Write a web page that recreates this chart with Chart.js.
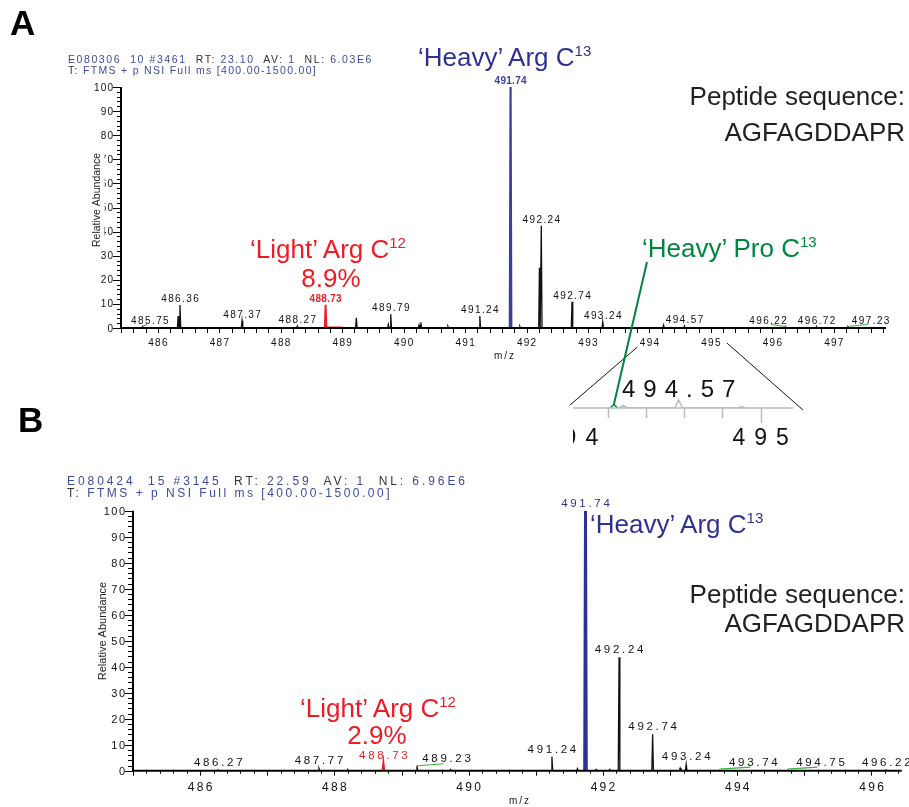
<!DOCTYPE html>
<html>
<head>
<meta charset="utf-8">
<title>SILAC spectra</title>
<script src="https://cdn.jsdelivr.net/npm/chart.js@4.4.1/dist/chart.umd.min.js"></script>
<style>
  body { margin: 0; background: #fff; }
  #page { position: relative; width: 909px; height: 807px; overflow: hidden; font-family: "Liberation Sans", Arial, sans-serif; }
  canvas { position: absolute; }
  .t { position: absolute; white-space: pre; line-height: 1; z-index: 5; }
  .panel { font-weight: bold; font-size: 35px; color: #000; }
  .hdrA { font-size: 10.5px; color: #3d4a9e; }
  .hdrB { font-size: 12px; color: #3d4a9e; }
  .k { color: #333; }
  .big { font-size: 26px; }
  .ctr { transform: translateX(-50%); text-align: center; }
  .blue { color: #2e3192; } .red { color: #ed1c24; } .green { color: #00853f; } .dark { color: #231f20; }
  .sup { font-size: 15px; position: relative; top: -10px; }
  .mz { font-size: 10px; letter-spacing: 2px; color: #222; }
  #insetBox { position: absolute; left: 573px; top: 370px; width: 240px; height: 90px; overflow: hidden; z-index: 3; }
</style>
</head>
<body>
<div id="page">
  <canvas id="chartA" width="909" height="460" style="left:0;top:0;z-index:1"></canvas>
  <canvas id="chartB" width="909" height="347" style="left:0;top:460px;z-index:1"></canvas>
  <div id="insetBox"><canvas id="inset" width="270" height="90" style="left:-33px;top:0"></canvas></div>

  <div class="t panel" style="left:10px;top:5px">A</div>
  <div class="t panel" style="left:18px;top:402px">B</div>

  <div class="t hdrA" id="hA1" style="left:68px;top:54px">E080306  10 #3461  <span class="k">RT:</span> 23.10  <span class="k">AV:</span> 1  <span class="k">NL:</span> 6.03E6</div>
  <div class="t hdrA" id="hA2" style="left:68px;top:65px"><span class="k">T:</span> FTMS + p NSI Full ms [400.00-1500.00]</div>
  <div class="t hdrB" id="hB1" style="left:67px;top:475px">E080424  15 #3145  <span class="k">RT:</span> 22.59  <span class="k">AV:</span> 1  <span class="k">NL:</span> 6.96E6</div>
  <div class="t hdrB" id="hB2" style="left:67px;top:487px"><span class="k">T:</span> FTMS + p NSI Full ms [400.00-1500.00]</div>

  <div class="t big blue" style="left:418px;top:44px">‘Heavy’ Arg C<span class="sup">13</span></div>
  <div class="t big dark" style="right:4px;top:83px">Peptide sequence:</div>
  <div class="t big dark" style="right:4px;top:119px">AGFAGDDAPR</div>
  <div class="t big red ctr" style="left:328px;top:236px">‘Light’ Arg C<span class="sup">12</span></div>
  <div class="t big red ctr" style="left:331px;top:265px">8.9%</div>
  <div class="t big green" style="left:642px;top:235px">‘Heavy’ Pro C<span class="sup">13</span></div>
  <div class="t mz ctr" style="left:505px;top:351px">m/z</div>

  <div class="t big blue" style="left:590px;top:511px">‘Heavy’ Arg C<span class="sup">13</span></div>
  <div class="t big dark" style="right:4px;top:581px">Peptide sequence:</div>
  <div class="t big dark" style="right:4px;top:610px">AGFAGDDAPR</div>
  <div class="t big red ctr" style="left:378px;top:695px">‘Light’ Arg C<span class="sup">12</span></div>
  <div class="t big red ctr" style="left:377px;top:722px">2.9%</div>
  <div class="t mz ctr" style="left:520px;top:796px">m/z</div>
</div>

<script>
// ---------- panel A : centroid peaks ----------
const peakMzA  = [485.75, 486.33, 486.36, 487.37, 488.27, 489.23, 489.75, 489.79, 490.25, 490.28, 490.72, 491.24, 491.89, 492.21, 492.24, 492.74, 493.24, 494.23, 494.57, 496.22, 496.72, 497.23];
const peakIntA = [0.6, 5, 9.5, 3, 0.8, 4.2, 1.5, 5.7, 1.2, 2.4, 0.7, 5, 0.7, 25, 42.4, 10.9, 2.5, 1.2, 0.8, 0.4, 0.6, 0.4];
const lightMzA = [488.73];
const lightIntA = [9.6];
const heavyMzA = [491.74];
const heavyIntA = [100];
const labelMzA = [485.75, 486.36, 487.37, 488.27, 489.79, 491.24, 492.24, 492.74, 493.24, 494.57, 496.22, 496.72, 497.23];
const labelShiftA = [0.12, 0, 0, 0, 0, 0, 0, 0, 0, 0, -0.29, 0, 0.37];
const xTickValsA = [486, 487, 488, 489, 490, 491, 492, 493, 494, 495, 496, 497];
const xTickLabelsA = ['486', '487', '488', '489', '490', '491', '492', '493', '494', '495', '496', '497'];

// ---------- panel B ----------
const peakMzB  = [486.27, 487.77, 488.2, 489.23, 489.73, 491.24, 491.62, 491.9, 492.1, 492.24, 492.74, 493.15, 493.24, 493.74, 494.75, 496.22];
const peakIntB = [0.3, 0.9, 0.4, 1.9, 0.5, 5.4, 0.8, 0.5, 0.5, 43.6, 14, 1, 2.5, 0.2, 0.2, 0.3];
const lightMzB = [488.73];
const lightIntB = [3.0];
const heavyMzB = [491.74];
const heavyIntB = [100];
const labelMzB = [486.27, 487.77, 489.23, 491.24, 492.24, 492.74, 493.24, 493.74, 494.75, 496.22];
const labelShiftB = [0, 0, 0.44, 0, 0, 0, 0, 0.5, 0.49, 0];
const xTickValsB = [486, 488, 490, 492, 494, 496];
const xTickLabelsB = ['486', '488', '490', '492', '494', '496'];

const yTickVals = [0, 10, 20, 30, 40, 50, 60, 70, 80, 90, 100];
const yTickLabels = ['0', '10', '20', '30', '40', '50', '60', '70', '80', '90', '100'];

// ---------- zoom inset (494 - 495 of panel A) ----------
const insetMz = [494.28, 494.57, 494.9];
const insetInt = [0.25, 0.8, 0.15];
const insetProMz = [494.23];
const insetProInt = [0.35];
const insetTickVals = [494, 495];
const insetTickLabels = ['494', '495'];

const FONT = '"Liberation Sans", Arial, sans-serif';

function steps(from, to, step) {
  const out = [];
  for (let v = from; v <= to + 1e-9; v += step) out.push(+v.toFixed(3));
  return out;
}

// every centroid drawn as a narrow spike
function spikes(mz, h, w) {
  const pts = [];
  mz.map((m, i) => [m, h[i]]).sort((a, b) => a[0] - b[0]).forEach(([m, v]) => {
    pts.push({x: m - w, y: 0}, {x: m, y: v}, {x: m + w, y: 0});
  });
  return pts;
}

function line(data, color, width) {
  return {data: data, showLine: true, borderColor: color, borderWidth: width, pointRadius: 0, fill: false, tension: 0};
}

function txt(ctx, s, x, y, font, ls, align, color) {
  ctx.font = font;
  ctx.letterSpacing = ls + 'px';
  ctx.textAlign = align;
  ctx.textBaseline = 'alphabetic';
  ctx.fillStyle = color;
  const dx = align === 'center' ? ls / 2 : (align === 'right' ? ls : 0);
  ctx.fillText(s, x + dx, y);
}

function heightAt(d, m) {
  const lists = [[d.peakMz, d.peakInt], [d.lightMz, d.lightInt], [d.heavyMz, d.heavyInt]];
  for (const [M, I] of lists) {
    const i = M.findIndex(v => Math.abs(v - m) < 0.005);
    if (i >= 0) return I[i];
  }
  return 0;
}

function decor(d, look) {
  return {
    id: 'decor',
    afterDatasetsDraw(chart) {
      const ctx = chart.ctx, xs = chart.scales.x, ys = chart.scales.y, a = chart.chartArea;
      ctx.save();
      // axes
      ctx.strokeStyle = '#000';
      ctx.lineWidth = look.axisW;
      ctx.beginPath();
      ctx.moveTo(a.left, a.top);
      ctx.lineTo(a.left, a.bottom);
      ctx.lineTo(a.right, a.bottom);
      ctx.stroke();
      // tick marks
      ctx.lineWidth = 1;
      ctx.beginPath();
      xs.ticks.forEach(t => {
        const px = Math.round(xs.getPixelForValue(t.value)) + 0.5;
        const len = Number.isInteger(t.value) ? look.xMajorLen : look.xMinorLen;
        ctx.moveTo(px, a.bottom);
        ctx.lineTo(px, a.bottom + len);
      });
      ys.ticks.forEach(t => {
        const py = Math.round(ys.getPixelForValue(t.value)) + 0.5;
        const len = t.value % 10 === 0 ? look.yMajorLen : look.yMinorLen;
        ctx.moveTo(a.left - len, py);
        ctx.lineTo(a.left, py);
      });
      ctx.stroke();
      // tick labels
      d.xTickVals.forEach((v, i) => {
        txt(ctx, d.xTickLabels[i], xs.getPixelForValue(v), a.bottom + look.xLabelDy, look.xFont, look.xLs, 'center', '#111');
      });
      yTickVals.forEach((v, i) => {
        txt(ctx, yTickLabels[i], a.left - look.yLabelGap, ys.getPixelForValue(v) + look.yCap / 2, look.yFont, look.yLs, 'right', '#111');
      });
      // axis title, white backed like the original export
      ctx.save();
      ctx.translate(look.titleX, look.titleY);
      ctx.rotate(-Math.PI / 2);
      ctx.font = look.titleFont;
      ctx.letterSpacing = '0px';
      const tw = ctx.measureText('Relative Abundance').width;
      ctx.fillStyle = '#fff';
      ctx.fillRect(-tw / 2 - 2, -look.titleBox / 2, tw + 4, look.titleBox);
      ctx.fillStyle = '#222';
      ctx.textAlign = 'center';
      ctx.textBaseline = 'middle';
      ctx.fillText('Relative Abundance', 0, 0);
      ctx.restore();
      // peak labels
      const put = (m, shift, font, ls, color) => {
        const top = ys.getPixelForValue(heightAt(d, m));
        const base = Math.min(top - look.labelGap, a.bottom - look.labelMin);
        const px = xs.getPixelForValue(m);
        const lx = xs.getPixelForValue(m + shift);
        if (shift !== 0) {
          ctx.strokeStyle = '#3cb043';
          ctx.lineWidth = 1.2;
          ctx.beginPath();
          ctx.moveTo(px, Math.min(top, a.bottom - 1.5));
          ctx.lineTo(lx - 3 * Math.sign(shift), Math.min(top, a.bottom - 1.5) - 2);
          ctx.stroke();
        }
        txt(ctx, m.toFixed(2), lx, base, font, ls, 'center', color);
      };
      d.labelMz.forEach((m, i) => put(m, d.labelShift[i], look.labelFont, look.labelLs, '#111'));
      d.lightMz.forEach(m => put(m, 0, look.lightFont, look.lightLs, '#ed1c24'));
      d.heavyMz.forEach(m => put(m, 0, look.heavyFont, look.heavyLs, look.heavyColor));
      ctx.restore();
    }
  };
}

function makeSpectrum(id, d, look, extra) {
  const ds = [
    line(spikes(d.peakMz, d.peakInt, look.w), '#111', look.peakW),
    line(spikes(d.lightMz, d.lightInt, look.w), '#ed1c24', look.lightW),
    line(spikes(d.heavyMz, d.heavyInt, look.w), look.heavyColor, look.heavyW)
  ];
  if (d.lightBand) ds.push(line(d.lightBand, '#ed1c24', 1.5));
  return new Chart(document.getElementById(id), {
    type: 'scatter',
    data: {datasets: ds},
    options: {
      responsive: false,
      animation: false,
      events: [],
      layout: {padding: {top: look.padTop, right: look.padRight, left: 0, bottom: 0}},
      plugins: {legend: {display: false}, tooltip: {enabled: false}},
      scales: {
        x: {
          type: 'linear', min: d.xMin, max: d.xMax,
          grid: {display: false}, border: {display: false}, ticks: {display: false},
          afterBuildTicks: s => { s.ticks = steps(Math.ceil(d.xMin * 5) / 5, d.xMax, look.xStep).map(v => ({value: v})); },
          afterFit: s => { s.height = look.xAxisH; }
        },
        y: {
          type: 'linear', min: 0, max: 100,
          grid: {display: false}, border: {display: false}, ticks: {display: false},
          afterBuildTicks: s => { s.ticks = steps(0, 100, 2).map(v => ({value: v})); },
          afterFit: s => { s.width = look.yAxisW; }
        }
      }
    },
    plugins: [decor(d, look)].concat(extra || [])
  });
}

// ---------- inset ----------
const insetChart = new Chart(document.getElementById('inset'), {
  type: 'scatter',
  data: {datasets: [
    line(spikes(insetMz, insetInt, 0.02), '#bbbbbb', 1.5),
    line(spikes(insetProMz, insetProInt, 0.02), '#00853f', 1.5)
  ]},
  options: {
    responsive: false, animation: false, events: [],
    layout: {padding: {top: 18, right: 17, left: 30, bottom: 0}},
    plugins: {legend: {display: false}, tooltip: {enabled: false}},
    scales: {
      x: {type: 'linear', min: 494.0, max: 495.17,
          grid: {display: false}, border: {display: false}, ticks: {display: false},
          afterBuildTicks: s => { s.ticks = steps(494, 495.17, 0.2).map(v => ({value: v})); },
          afterFit: s => { s.height = 52; }},
      y: {type: 'linear', min: 0, max: 2, display: false}
    }
  },
  plugins: [{
    id: 'insetDecor',
    afterDatasetsDraw(chart) {
      const ctx = chart.ctx, xs = chart.scales.x, ys = chart.scales.y, a = chart.chartArea;
      ctx.save();
      ctx.strokeStyle = '#bbbbbb';
      ctx.lineWidth = 1.5;
      ctx.beginPath();
      ctx.moveTo(0, a.bottom); ctx.lineTo(a.right, a.bottom);
      xs.ticks.forEach(t => {
        const px = Math.round(xs.getPixelForValue(t.value)) + 0.5;
        ctx.moveTo(px, a.bottom);
        ctx.lineTo(px, a.bottom + (Number.isInteger(t.value) ? 15 : 10));
      });
      ctx.stroke();
      insetTickVals.forEach((v, i) => txt(ctx, insetTickLabels[i], xs.getPixelForValue(v), a.bottom + 37, '23px ' + FONT, 9, 'center', '#111'));
      const m = insetMz[1];
      txt(ctx, m.toFixed(2), xs.getPixelForValue(m), ys.getPixelForValue(insetInt[1]) - 3, '24px ' + FONT, 8, 'center', '#111');
      ctx.restore();
    }
  }]
});
const INSET_LEFT = 540, INSET_TOP = 370;

// connector lines from the main axis of A to the inset, plus the Pro pointer
const connectors = {
  id: 'connectors',
  afterDraw(chart) {
    const ctx = chart.ctx, xs = chart.scales.x, ys = chart.scales.y;
    const ix = insetChart.scales.x, iy = insetChart.scales.y, ia = insetChart.chartArea;
    const axisY = INSET_TOP + ia.bottom;
    ctx.save();
    ctx.strokeStyle = '#111';
    ctx.lineWidth = 1;
    ctx.beginPath();
    ctx.moveTo(xs.getPixelForValue(494) - 12, 347);
    ctx.lineTo(INSET_LEFT + ix.getPixelForValue(494), axisY - 3);
    ctx.moveTo(xs.getPixelForValue(495) + 16, 343);
    ctx.lineTo(INSET_LEFT + ia.right + 10, axisY + 2);
    ctx.stroke();
    ctx.strokeStyle = '#00853f';
    ctx.lineWidth = 2;
    ctx.beginPath();
    ctx.moveTo(xs.getPixelForValue(493.96), ys.getPixelForValue(27.4));
    ctx.lineTo(INSET_LEFT + ix.getPixelForValue(insetProMz[0]), INSET_TOP + iy.getPixelForValue(insetProInt[0]));
    ctx.stroke();
    ctx.restore();
  }
};

const lookA = {
  padTop: 87, padRight: 23, yAxisW: 121, xAxisH: 132, xStep: 0.2,
  w: 0.012, peakW: 1.3, lightW: 2, heavyW: 2.2, heavyColor: '#3b3f9c', axisW: 2,
  xMajorLen: 5, xMinorLen: 5, yMajorLen: 8, yMinorLen: 4,
  xFont: '10px ' + FONT, xLs: 1.3, xLabelDy: 18,
  yFont: '10px ' + FONT, yLs: 1.1, yLabelGap: 8, yCap: 7,
  titleFont: '10.5px ' + FONT, titleX: 97, titleY: 200, titleBox: 15,
  labelFont: '10px ' + FONT, labelLs: 1.4, labelGap: 3, labelMin: 4,
  lightFont: 'bold 10px ' + FONT, lightLs: 0.3,
  heavyFont: 'bold 10px ' + FONT, heavyLs: 0.3
};
const lookB = {
  padTop: 50.7, padRight: 7.3, yAxisW: 133, xAxisH: 36.3, xStep: 0.2,
  w: 0.012, peakW: 1.3, lightW: 2, heavyW: 3, heavyColor: '#2e3192', axisW: 2,
  xMajorLen: 5, xMinorLen: 3, yMajorLen: 8, yMinorLen: 5,
  xFont: '12px ' + FONT, xLs: 2.3, xLabelDy: 20,
  yFont: '11px ' + FONT, yLs: 1.5, yLabelGap: 8, yCap: 8,
  titleFont: '11px ' + FONT, titleX: 103, titleY: 171, titleBox: 16,
  labelFont: '11.5px ' + FONT, labelLs: 2.7, labelGap: 4, labelMin: 4,
  lightFont: '11.5px ' + FONT, lightLs: 2.7,
  heavyFont: '11.5px ' + FONT, heavyLs: 2.7
};

makeSpectrum('chartA', {
  xMin: 485.4, xMax: 497.85,
  peakMz: peakMzA, peakInt: peakIntA, lightMz: lightMzA, lightInt: lightIntA,
  heavyMz: heavyMzA, heavyInt: heavyIntA, labelMz: labelMzA, labelShift: labelShiftA,
  xTickVals: xTickValsA, xTickLabels: xTickLabelsA,
  lightBand: [{x: lightMzA[0], y: 0.3}, {x: lightMzA[0] + 0.27, y: 0.3}]
}, lookA, [connectors]);

makeSpectrum('chartB', {
  xMin: 485.0, xMax: 496.45,
  peakMz: peakMzB, peakInt: peakIntB, lightMz: lightMzB, lightInt: lightIntB,
  heavyMz: heavyMzB, heavyInt: heavyIntB, labelMz: labelMzB, labelShift: labelShiftB,
  xTickVals: xTickValsB, xTickLabels: xTickLabelsB
}, lookB);

// stretch the header lines to the width they have in the export
function fitWidth(id, w) {
  const el = document.getElementById(id);
  el.style.letterSpacing = '0px';
  const nat = el.getBoundingClientRect().width;
  el.style.letterSpacing = ((w - nat) / el.textContent.length) + 'px';
}
fitWidth('hA1', 305);
fitWidth('hA2', 249);
fitWidth('hB1', 401);
fitWidth('hB2', 325);
</script>
</body>
</html>
